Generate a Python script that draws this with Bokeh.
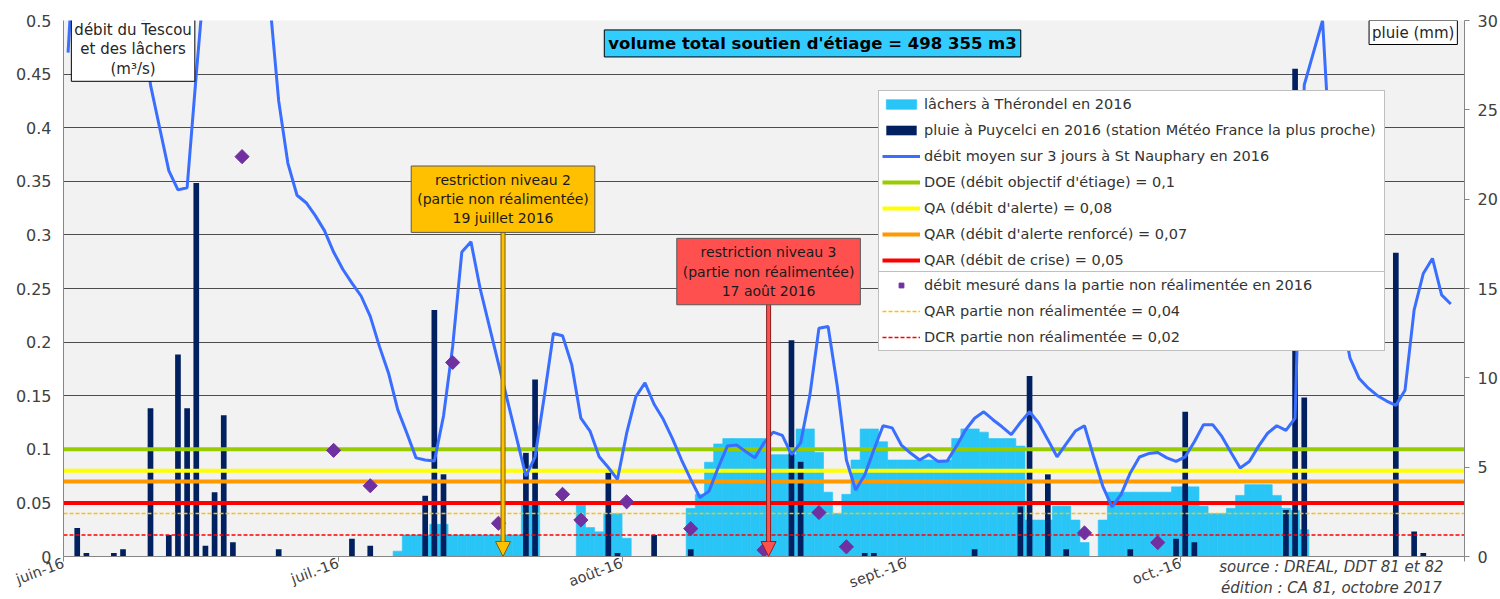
import pandas as pd
from bokeh.plotting import figure
from bokeh.models import (Range1d, LinearAxis, FixedTicker, NumeralTickFormatter,
                          Legend, LegendItem, Label, Arrow, NormalHead)
from bokeh.embed import file_html
from bokeh.resources import INLINE

# ---------------- data ----------------
START = "2016-06-01"
END = "2016-11-01"
month_starts = ["2016-06-01", "2016-07-01", "2016-08-01", "2016-09-01", "2016-10-01", "2016-11-01"]
month_labels = ["juin-16", "juil.-16", "août-16", "sept.-16", "oct.-16", ""]
y_ticks = [0, 0.05, 0.1, 0.15, 0.2, 0.25, 0.3, 0.35, 0.4, 0.45, 0.5]
rain_ticks = [0, 5, 10, 15, 20, 25, 30]

# débit moyen sur 3 jours à St Nauphary (m3/s), one value per day from 1 June
debit_juin = [0.47, 0.62, 0.75, 0.85, 0.80, 0.72, 0.65, 0.58, 0.52, 0.44,
              0.40, 0.36, 0.342, 0.344, 0.45, 0.55, 0.70, 0.85, 0.90, 0.80,
              0.68, 0.58, 0.52, 0.425, 0.367, 0.337, 0.330, 0.318, 0.304, 0.284]
debit_juil = [0.268, 0.255, 0.243, 0.224, 0.196, 0.171, 0.137, 0.115, 0.092, 0.090,
              0.089, 0.131, 0.196, 0.284, 0.2935, 0.250, 0.215, 0.180, 0.145, 0.110,
              0.075, 0.093, 0.149, 0.208, 0.206, 0.179, 0.129, 0.117, 0.093, 0.083,
              0.072]
debit_aout = [0.115, 0.149, 0.162, 0.142, 0.128, 0.110, 0.090, 0.072, 0.055, 0.061,
              0.083, 0.103, 0.104, 0.098, 0.092, 0.106, 0.116, 0.113, 0.095, 0.106,
              0.150, 0.213, 0.2145, 0.159, 0.090, 0.062, 0.076, 0.0996, 0.122, 0.120,
              0.104]
debit_sept = [0.0965, 0.090, 0.095, 0.0887, 0.089, 0.1027, 0.118, 0.129, 0.135, 0.1276,
              0.121, 0.1136, 0.125, 0.135, 0.1245, 0.109, 0.093, 0.105, 0.117, 0.122,
              0.093, 0.0655, 0.0463, 0.058, 0.078, 0.0928, 0.096, 0.097, 0.092, 0.0887]
debit_oct = [0.093, 0.107, 0.123, 0.123, 0.112, 0.097, 0.0826, 0.0887, 0.1027, 0.115,
             0.122, 0.1176, 0.129, 0.44, 0.47, 0.50, 0.35, 0.23, 0.185, 0.166,
             0.157, 0.150, 0.145, 0.141, 0.155, 0.23, 0.264, 0.278, 0.244, 0.2355]

# lâchers à Thérondel (m3/s), one value per day from 1 June
lachers_juin = [0, 0, 0, 0, 0, 0, 0, 0, 0, 0, 0, 0, 0, 0, 0,
                0, 0, 0, 0, 0, 0, 0, 0, 0, 0, 0, 0, 0, 0, 0]
lachers_juil = [0, 0, 0, 0, 0, 0, 0.005, 0.02, 0.02, 0.02,
                0.03, 0.03, 0.02, 0.02, 0.02, 0.02, 0.02, 0.02, 0.02, 0.02,
                0.048, 0.048, 0, 0, 0, 0, 0.048, 0.027, 0.023, 0.04,
                0.04]
lachers_aout = [0.017, 0, 0, 0, 0, 0, 0, 0.045, 0.058, 0.088,
                0.105, 0.11, 0.11, 0.11, 0.11, 0.11, 0.095, 0.095, 0.095, 0.119,
                0.119, 0.097, 0.06, 0.04, 0.058, 0.09, 0.119, 0.119, 0.107, 0.09,
                0.09]
lachers_sept = [0.09, 0.09, 0.09, 0.09, 0.09, 0.11, 0.119, 0.119, 0.116, 0.11,
                0.11, 0.11, 0.103, 0.034, 0.034, 0.034, 0.047, 0.047, 0.034, 0.013,
                0, 0.034, 0.06, 0.06, 0.06, 0.06, 0.06, 0.06, 0.06, 0.065]
lachers_oct = [0.065, 0.065, 0.047, 0.04, 0.04, 0.045, 0.057, 0.067, 0.067, 0.067,
               0.057, 0.045, 0.043, 0.025, 0, 0, 0, 0, 0, 0,
               0, 0, 0, 0, 0, 0, 0, 0, 0, 0]

# pluie à Puycelci (mm)
rain_dates = ["2016-06-02", "2016-06-03", "2016-06-06", "2016-06-07", "2016-06-10",
              "2016-06-12", "2016-06-13", "2016-06-14", "2016-06-15", "2016-06-16",
              "2016-06-17", "2016-06-18", "2016-06-19", "2016-06-24", "2016-07-02",
              "2016-07-04", "2016-07-10", "2016-07-11", "2016-07-12", "2016-07-21",
              "2016-07-22", "2016-07-30", "2016-07-31", "2016-08-04", "2016-08-08",
              "2016-08-19", "2016-08-20", "2016-08-27", "2016-08-28", "2016-09-08",
              "2016-09-13", "2016-09-14", "2016-09-16", "2016-09-18", "2016-09-25",
              "2016-09-30", "2016-10-01", "2016-10-02", "2016-10-12", "2016-10-13",
              "2016-10-14", "2016-10-24", "2016-10-26", "2016-10-27"]
rain_mm = [1.6, 0.2, 0.2, 0.4, 8.3,
           1.2, 11.3, 8.3, 20.9, 0.6,
           3.6, 7.9, 0.8, 0.4, 1.0,
           0.6, 3.4, 13.8, 4.6, 5.8,
           9.9, 4.7, 0.2, 1.2, 0.4,
           12.1, 5.3, 0.2, 0.2, 0.4,
           2.8, 10.1, 4.6, 0.4, 0.4,
           1.0, 8.1, 0.8, 2.6, 27.3,
           8.9, 17.0, 1.4, 0.2]

# débit mesuré dans la partie non réalimentée (m3/s)
mesure_dates = ["2016-06-20", "2016-06-30", "2016-07-04", "2016-07-13", "2016-07-18",
                "2016-07-25", "2016-07-27", "2016-08-01", "2016-08-08", "2016-08-16",
                "2016-08-22", "2016-08-25", "2016-09-20", "2016-09-28"]
mesure_debit = [0.373, 0.099, 0.066, 0.181, 0.031,
                0.058, 0.034, 0.051, 0.026, 0.006,
                0.041, 0.009, 0.022, 0.013]

seuils = [0.1, 0.08, 0.07, 0.05, 0.04, 0.02]
seuil_labels = ["DOE (débit objectif d'étiage) = 0,1",
                "QA (débit d'alerte) = 0,08",
                "QAR (débit d'alerte renforcé) = 0,07",
                "QAR (débit de crise) = 0,05",
                "QAR partie non réalimentée = 0,04",
                "DCR partie non réalimentée = 0,02"]

restriction_dates = ["2016-07-19", "2016-08-17"]
restriction_texts = ["restriction niveau 2\n(partie non réalimentée)\n19 juillet 2016",
                     "restriction niveau 3\n(partie non réalimentée)\n17 août 2016"]
volume_text = "volume total soutien d'étiage = 498 355 m3"
source_texts = ["source : DREAL, DDT 81 et 82", "édition : CA 81, octobre 2017"]

# ---------------- helpers ----------------
t0 = pd.Timestamp(START)


def day_of(s):
    return (pd.Timestamp(s) - t0).days


debit = debit_juin + debit_juil + debit_aout + debit_sept + debit_oct
lachers = lachers_juin + lachers_juil + lachers_aout + lachers_sept + lachers_oct
x_daily = [d + 0.5 for d in range(len(debit))]
x_rain = [day_of(s) + 0.5 for s in rain_dates]
x_mes = [day_of(s) + 0.5 for s in mesure_dates]
x_end = day_of(END)

# ---------------- styling ----------------
FONT = "DejaVu Sans"
CYAN = "#29C5F6"
NAVY = "#002060"
BLUE = "#3A6EFF"
PURPLE = "#7030A0"
seuil_colors = ["#99CC00", "#FFFF00", "#FF9900", "#FF0000", "#FFC000", "#FF0000"]
seuil_widths = [4, 4, 4, 4, 1.5, 1.5]
seuil_dash = ["solid", "solid", "solid", "solid", "4 2", "4 2"]

W, H = 1500, 599
MB_L, MB_R, MB_T, MB_B = 63, 34, 20, 42
FRAME_H = H - MB_T - 43
PX = 0.5 / FRAME_H   # one screen pixel in data units (left axis)

p = figure(width=W, height=H, output_backend="svg", toolbar_location=None,
           x_range=Range1d(0, x_end), y_range=Range1d(0, 0.5),
           min_border_left=MB_L, min_border_right=MB_R,
           min_border_top=MB_T, min_border_bottom=MB_B)
p.extra_y_ranges = {"rain": Range1d(0, 30)}
p.background_fill_color = "#F2F2F2"
p.border_fill_color = "white"
p.outline_line_color = None

# axes
xa = p.xaxis[0]
xa.ticker = FixedTicker(ticks=[day_of(m) for m in month_starts])
xa.major_label_overrides = {day_of(m): lab for m, lab in zip(month_starts, month_labels)}
xa.major_label_orientation = 0.35
xa.major_label_text_font = FONT
xa.major_label_text_font_size = "14.5px"
xa.major_label_text_color = "#404040"
xa.major_label_standoff = 1
xa.major_tick_out = 5
xa.major_tick_in = 0
xa.minor_tick_line_color = None
xa.axis_line_color = "#868686"
xa.major_tick_line_color = "#868686"
# source / édition note, drawn as the (centred) axis label, shifted to the
# bottom-right corner by leading no-break spaces
xa.axis_label_align = "center"
xa.axis_label = "\n".join("\u00a0" * 238 + t for t in source_texts)
xa.axis_label_standoff = -43
xa.axis_label_text_font = FONT
xa.axis_label_text_font_size = "15px"
xa.axis_label_text_font_style = "italic"
xa.axis_label_text_color = "#404040"
xa.axis_label_text_line_height = 1.15

p.yaxis.ticker = FixedTicker(ticks=y_ticks)
p.yaxis.formatter = NumeralTickFormatter(format="0.[00]")
p.yaxis.major_label_text_font = FONT
p.yaxis.major_label_text_font_size = "16px"
p.yaxis.major_label_text_color = "#404040"
p.yaxis.major_label_standoff = 12
p.yaxis.major_tick_out = 0
p.yaxis.major_tick_in = 0
p.yaxis.minor_tick_line_color = None
p.yaxis.axis_line_color = "#868686"

ra = LinearAxis(y_range_name="rain", ticker=FixedTicker(ticks=rain_ticks))
ra.major_label_text_font = FONT
ra.major_label_text_font_size = "16px"
ra.major_label_text_color = "#404040"
ra.major_label_standoff = 8
ra.major_tick_out = 5
ra.major_tick_in = 0
ra.minor_tick_line_color = None
ra.axis_line_color = "#868686"
ra.major_tick_line_color = "#868686"
p.add_layout(ra, "right")

p.xgrid.grid_line_color = None
p.ygrid.ticker = FixedTicker(ticks=y_ticks)
p.ygrid.grid_line_color = "#4d4d4d"
p.ygrid.grid_line_width = 1

# ---------------- glyphs ----------------
r_lach = p.vbar(x=x_daily, top=lachers, width=1.0, fill_color=CYAN,
                line_color=CYAN, line_width=0.6)
r_rain = p.vbar(x=x_rain, top=rain_mm, width=0.62, y_range_name="rain",
                fill_color=NAVY, line_color=None)
seuil_r = []
for v, c, w, d in zip(seuils, seuil_colors, seuil_widths, seuil_dash):
    seuil_r.append(p.line(x=[0, x_end], y=[v, v], line_color=c, line_width=w, line_dash=d))
r_debit = p.line(x=x_daily, y=debit, line_color=BLUE, line_width=3)
r_mes = p.scatter(x=x_mes, y=mesure_debit, marker="square", angle=0.785, size=10,
                  fill_color=PURPLE, line_color=PURPLE)

# ---------------- legends (two stacked boxes of equal width) ----------------
items_a = [LegendItem(label="lâchers à Thérondel en 2016", renderers=[r_lach]),
           LegendItem(label="pluie à Puycelci en 2016 (station Météo France la plus proche)", renderers=[r_rain]),
           LegendItem(label="débit moyen sur 3 jours à St Nauphary en 2016", renderers=[r_debit])]
for lab, r in zip(seuil_labels[:4], seuil_r[:4]):
    items_a.append(LegendItem(label=lab, renderers=[r]))
items_b = [LegendItem(label="débit mesuré dans la partie non réalimentée en 2016", renderers=[r_mes])]
for lab, r in zip(seuil_labels[4:], seuil_r[4:]):
    items_b.append(LegendItem(label=lab, renderers=[r]))

LEG_X = 815
PAD, ROW, SP = 3, 20, 6
h_b = 2 * PAD + len(items_b) * ROW + (len(items_b) - 1) * SP
LEG_Y_B = 205
leg_style = dict(orientation="vertical",
                 label_text_font=FONT, label_text_font_size="14.5px", label_text_color="#333333",
                 label_height=ROW, label_width=457, glyph_height=12, glyph_width=38,
                 label_standoff=4, spacing=SP, padding=PAD, margin=0,
                 border_line_color="#7f7f7f", border_line_width=1,
                 background_fill_color="white", background_fill_alpha=1.0)
p.add_layout(Legend(items=items_a, location=(LEG_X, LEG_Y_B + h_b - 1), **leg_style))
p.add_layout(Legend(items=items_b, location=(LEG_X, LEG_Y_B), **leg_style))

# ---------------- annotations ----------------
restriction_fill = ["#FFC000", "#FF5050"]
restriction_dark = ["#7F6000", "#8B2020"]
restriction_y = [0.3333, 0.2658]
half_box = 31.2 * PX
for dte, txt, fc, dc, yc in zip(restriction_dates, restriction_texts,
                                restriction_fill, restriction_dark, restriction_y):
    xd = day_of(dte)
    p.add_layout(Arrow(end=None, x_start=xd, y_start=yc - half_box, x_end=xd, y_end=14 * PX,
                       line_color=dc, line_width=5))
    p.add_layout(Arrow(end=NormalHead(size=15, fill_color=fc, line_color=dc, line_width=1),
                       x_start=xd, y_start=yc - half_box, x_end=xd, y_end=0,
                       line_color=fc, line_width=3))
    p.add_layout(Label(x=xd, y=yc, text=txt, text_align="center", text_baseline="middle",
                       text_font=FONT, text_font_size="14px", text_color="#1a1a1a",
                       background_fill_color=fc, border_line_color="#595959",
                       border_line_width=1, padding=6))

p.add_layout(Label(x=81.8, y=0.4786, text=volume_text, text_align="center", text_baseline="middle",
                   text_font=FONT, text_font_size="16.5px", text_font_style="bold",
                   text_color="#000000", background_fill_color="#33CCFF",
                   border_line_color="#000000", border_line_width=1, padding=4))
p.add_layout(Label(x=7.6, y=0.5 - 29 * PX, text="débit du Tescou\net des lâchers\n(m³/s)",
                   text_align="center", text_baseline="middle", text_line_height=1.1,
                   text_font=FONT, text_font_size="15px", text_color="#262626",
                   background_fill_color="white", border_line_color="#000000",
                   border_line_width=1, padding=3))
p.add_layout(Label(x=147.4, y=0.5 - 12 * PX, text="pluie (mm)",
                   text_align="center", text_baseline="middle",
                   text_font=FONT, text_font_size="15px", text_color="#262626",
                   background_fill_color="white", border_line_color="#000000",
                   border_line_width=1, padding=3))

open("out.html", "w").write(file_html(p, INLINE))
